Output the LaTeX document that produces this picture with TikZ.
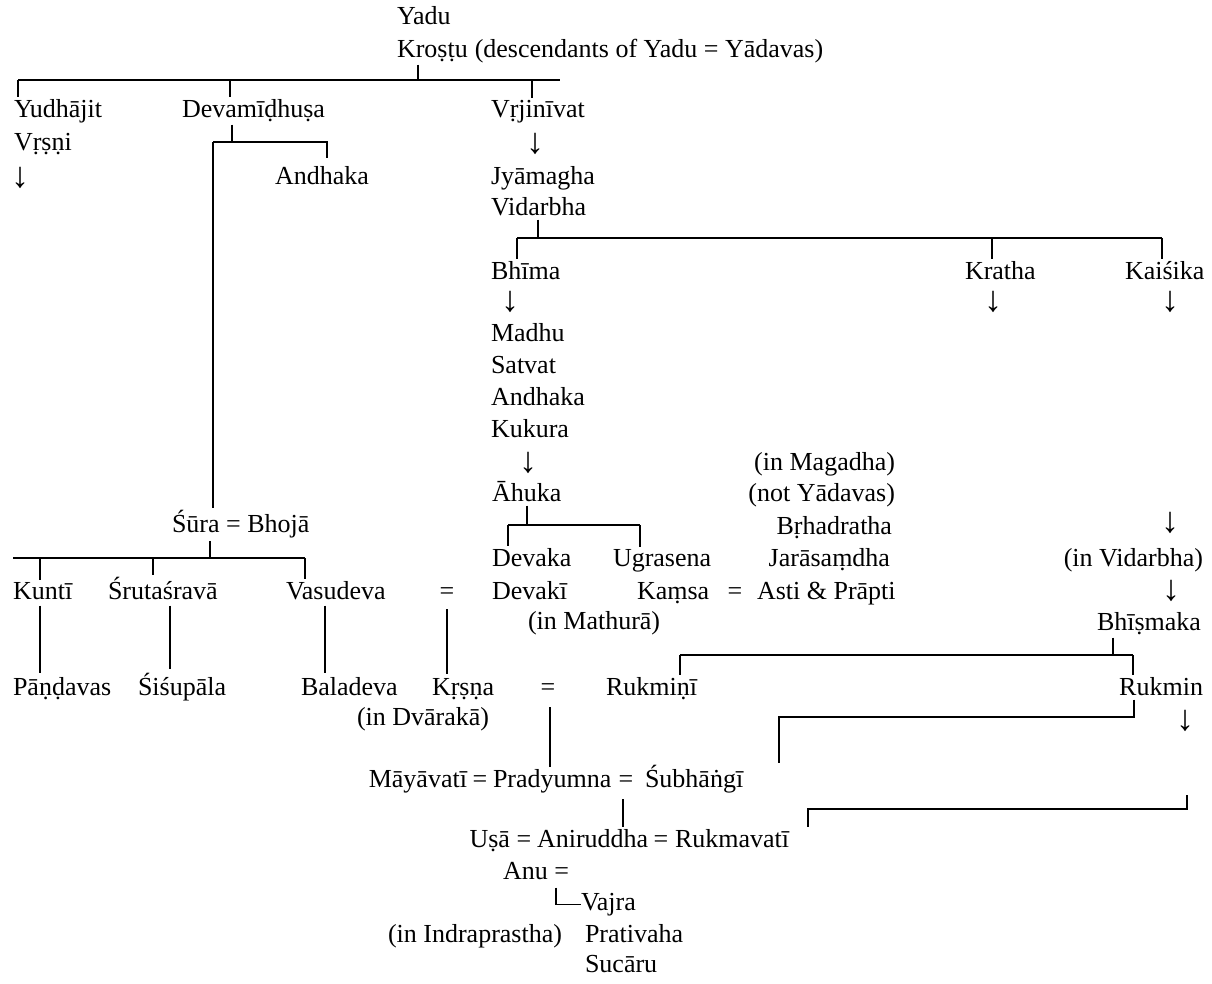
\documentclass[tikz,border=0pt]{standalone}
\usepackage{fontspec}
\setmainfont{Liberation Serif}
\newcommand\chartfont{\fontsize{26}{31}\selectfont}
\newcommand\arrowfont{\fontsize{36}{40}\selectfont}
\tikzset{
  nm/.style={inner sep=0pt, outer sep=0pt, anchor=mid west, yshift=-5pt, font=\chartfont},
  nr/.style={inner sep=0pt, outer sep=0pt, anchor=mid east, yshift=-5pt, font=\chartfont},
  nc/.style={inner sep=0pt, outer sep=0pt, anchor=mid, yshift=-5pt, font=\chartfont},
  dn/.style={inner sep=0pt, outer sep=0pt, anchor=center, font=\arrowfont},
  ln/.style={line width=2.4pt},
}
\begin{document}
\begin{tikzpicture}[x=1pt,y=-1pt]
\useasboundingbox (0,0) rectangle (1212,983);
% ---- nodes ----
\node[nm] (yadu) at (397,17) {Yadu};
\node[nm] (krostu) at (397,50) {Kroṣṭu};
\node[nm,yshift=5pt] (desc) at ([xshift=7pt]krostu.mid east) {(descendants of Yadu = Yādavas)};
\node[nm] (yudhajit) at (14,110) {Yudhājit};
\node[nm] (vrsni) at (14,143) {Vṛṣṇi};
\node[dn] (ar1) at (20,178) {↓};
\node[nm] (devam) at (182,110) {Devamīḍhuṣa};
\node[nm] (andhakaA) at (275,177) {Andhaka};
\node[nm] (vrjini) at (491,110) {Vṛjinīvat};
\node[dn] (ar2) at (535,144) {↓};
\node[nm] (jyam) at (491,177) {Jyāmagha};
\node[nm] (vidarbha) at (491,208) {Vidarbha};
\node[nm] (bhima) at (491,272) {Bhīma};
\node[nm] (kratha) at (965,272) {Kratha};
\node[nm] (kaisika) at (1125,272) {Kaiśika};
\node[dn] (ar3) at (510,302) {↓};
\node[dn] (ar4) at (993,302) {↓};
\node[dn] (ar5) at (1170,302) {↓};
\node[nm] (madhu) at (491,334) {Madhu};
\node[nm] (satvat) at (491,366) {Satvat};
\node[nm] (andhakaB) at (491,398) {Andhaka};
\node[nm] (kukura) at (491,430) {Kukura};
\node[dn] (ar6) at (528,463) {↓};
\node[nm] (ahuka) at (492,494) {Āhuka};
\node[nr] (magadha) at (895,463) {(in Magadha)};
\node[nr] (notyad) at (895,494) {(not Yādavas)};
\node[nr] (brhad) at (892,527) {Bṛhadratha};
\node[nr] (jaras) at (890,559) {Jarāsaṃdha};
\node[dn] (ar7) at (1170,523) {↓};
\node[nr] (invid) at (1203,559) {(in Vidarbha)};
\node[dn] (ar8) at (1171,591) {↓};
\node[nr] (bhism) at (1201,623) {Bhīṣmaka};
\node[nm] (sura) at (172,525) {Śūra = Bhojā};
\node[nm] (devaka) at (492,559) {Devaka};
\node[nm] (ugra) at (613,559) {Ugrasena};
\node[nm] (kunti) at (13,592) {Kuntī};
\node[nm] (sruta) at (108,592) {Śrutaśravā};
\node[nm] (vasudeva) at (286,592) {Vasudeva};
\node[nc] (eqA) at (447,592) {=};
\node[nm] (devaki) at (492,592) {Devakī};
\node[nm] (kamsa) at (637,592) {Kaṃsa};
\node[nc] (eqB) at (735,592) {=};
\node[nm] (asti) at (757,592) {Asti \& Prāpti};
\node[nm] (mathura) at (528,622) {(in Mathurā)};
\node[nm] (pandavas) at (13,688) {Pāṇḍavas};
\node[nm] (sisupala) at (138,688) {Śiśupāla};
\node[nm] (baladeva) at (301,688) {Baladeva};
\node[nm] (krsna) at (432,688) {Kṛṣṇa};
\node[nc] (eqC) at (548,688) {=};
\node[nm] (rukmini) at (606,688) {Rukmiṇī};
\node[nr] (rukmin) at (1203,688) {Rukmin};
\node[nm] (dvaraka) at (357,718) {(in Dvārakā)};
\node[dn] (ar9) at (1185,721) {↓};
\node[nr] (mayavati) at (467,780) {Māyāvatī};
\node[nc] (eqD) at (480,780) {=};
\node[nm] (pradyumna) at (493,780) {Pradyumna};
\node[nc] (eqE) at (626,780) {=};
\node[nm] (subhangi) at (645,780) {Śubhāṅgī};
\node[nr] (usa) at (510,840) {Uṣā};
\node[nc] (eqF) at (524,840) {=};
\node[nm] (aniruddha) at (537,840) {Aniruddha};
\node[nc] (eqG) at (661,840) {=};
\node[nm] (rukmavati) at (675,840) {Rukmavatī};
\node[nm] (anu) at (503,872) {Anu =};
\node[nm] (vajra) at (581,903) {Vajra};
\node[nm] (indra) at (388,935) {(in Indraprastha)};
\node[nm] (prativaha) at (585,935) {Prativaha};
\node[nm] (sucaru) at (585,965) {Sucāru};
% ---- junction coordinates ----
\coordinate (t0) at (418,80);
\coordinate (tL) at (18,80);
\coordinate (t1) at (230,80);
\coordinate (t2) at (532,80);
\coordinate (tR) at (560,80);
\coordinate (d0) at (232,142);
\coordinate (dL) at (213,142);
\coordinate (dR) at (327,142);
\coordinate (v0) at (538,238);
\coordinate (vL) at (517,238);
\coordinate (vM) at (992,238);
\coordinate (vR) at (1162,238);
\coordinate (a0) at (527,525);
\coordinate (aL) at (508,525);
\coordinate (aR) at (640,525);
\coordinate (s0) at (210,558);
\coordinate (sL) at (13,558);
\coordinate (s1) at (40,558);
\coordinate (s2) at (153,558);
\coordinate (sR) at (305,558);
\coordinate (b0) at (1113,655);
\coordinate (bL) at (680,655);
\coordinate (bR) at (1133,655);
\coordinate (r0) at (1134,717);
\coordinate (rL) at (779,717);
\coordinate (k0) at (1187,795);
\coordinate (kR) at (1187,809);
\coordinate (kL) at (808,809);
% ---- connectors ----
\draw[ln] ([yshift=-3pt]krostu.south -| t0) -- (t0);
\draw[ln] (tL) -- (tR);
\draw[ln] (tL) -- ([yshift=2pt]yudhajit.north -| tL);
\draw[ln] (t1) -- ([yshift=2pt]devam.north -| t1);
\draw[ln] (t2) -- ([yshift=2pt]vrjini.north -| t2);
\draw[ln] ([yshift=-3pt]devam.south -| d0) -- (d0);
\draw[ln] (dL) -- (dR) -- ([yshift=8pt]andhakaA.north -| dR);
\draw[ln] (dL) -- ([yshift=2pt]sura.north -| dL);
\draw[ln] ([yshift=-4pt]vidarbha.south -| v0) -- (v0);
\draw[ln] (vL) -- (vR);
\draw[ln] (vL) -- ([yshift=2pt]bhima.north -| vL);
\draw[ln] (vM) -- ([yshift=2pt]kratha.north -| vM);
\draw[ln] (vR) -- ([yshift=2pt]kaisika.north -| vR);
\draw[ln] ([yshift=-4pt]ahuka.south -| a0) -- (a0);
\draw[ln] (aL) -- (aR);
\draw[ln] (aL) -- ([yshift=2pt]devaka.north -| aL);
\draw[ln] (aR) -- ([yshift=2pt]ugra.north -| aR);
\draw[ln] ([yshift=-3pt]sura.south -| s0) -- (s0);
\draw[ln] (sL) -- (sR);
\draw[ln] (s1) -- ([yshift=2pt]kunti.north -| s1);
\draw[ln] (s2) -- ([yshift=2pt]sruta.north -| s2);
\draw[ln] (sR) -- ([yshift=2pt]vasudeva.north -| sR);
\draw[ln] ([yshift=-6pt]kunti.south -| 40,0) -- ([yshift=4pt]pandavas.north -| 40,0);
\draw[ln] ([yshift=-6pt]sruta.south -| 170,0) -- ([yshift=4pt]sisupala.north -| 170,0);
\draw[ln] ([yshift=-6pt]vasudeva.south -| 325,0) -- ([yshift=4pt]baladeva.north -| 325,0);
\draw[ln] ([yshift=-10pt]eqA.south) -- ([yshift=4pt]krsna.north -| eqA.south);
\draw[ln] ([yshift=-3pt]bhism.south -| b0) -- (b0);
\draw[ln] (bL) -- (bR);
\draw[ln] (bL) -- ([yshift=2pt]rukmini.north -| bL);
\draw[ln] (bR) -- ([yshift=2pt]rukmin.north -| bR);
\draw[ln] ([yshift=-4pt]rukmin.south -| r0) -- (r0) -- (rL) -- ([yshift=2pt]subhangi.north -| rL);
\draw[ln] ([yshift=-12pt]eqC.south -| 550,0) -- ([yshift=2pt]pradyumna.north -| 550,0);
\draw[ln] ([yshift=-12pt]eqE.south -| 623,0) -- ([yshift=2pt]aniruddha.north -| 623,0);
\draw[ln] (k0) -- (kR) -- (kL) -- ([yshift=2pt]rukmavati.north -| kL);
\draw[line width=1.8pt] ([yshift=-8pt]anu.south -| 556,0) |- (vajra.west);
\end{tikzpicture}
\end{document}
